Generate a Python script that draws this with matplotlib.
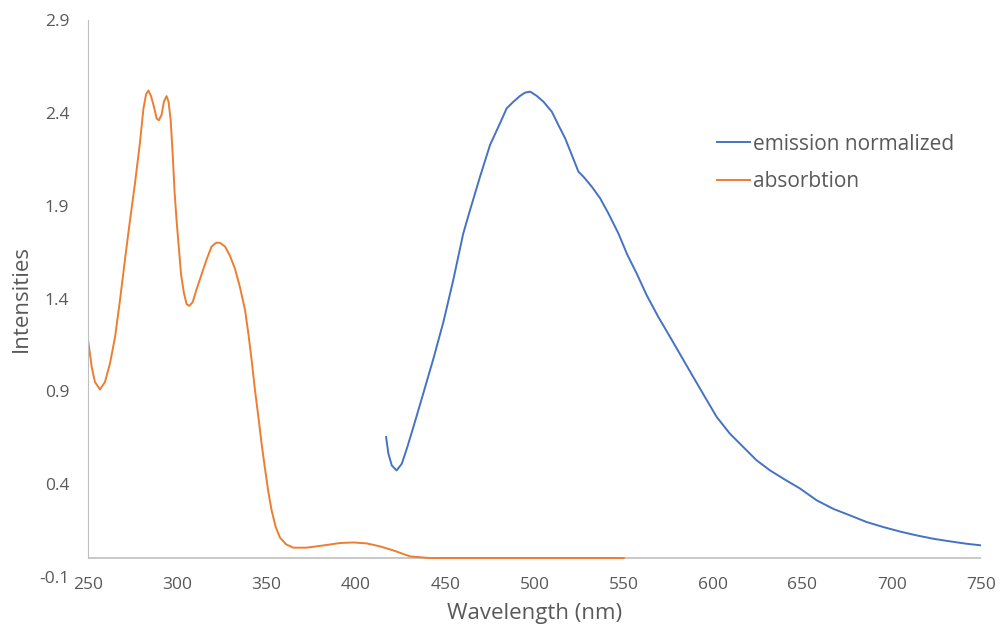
import matplotlib
matplotlib.use("Agg")
import matplotlib.pyplot as plt

# absorption spectrum (nm, intensity)
abs_wl = [250.2, 252.1, 253.9, 256.7, 259.5, 262.3, 265.1, 267.9, 270.7, 273.5,
          276.3, 279.1, 281.0, 282.5, 283.8, 285.3, 287.0, 288.4, 289.7, 291.2,
          292.5, 294.0, 295.1, 296.3, 297.4, 298.5, 299.6, 300.8, 302.1, 303.7,
          305.2, 306.7, 308.6, 310.8, 313.6, 316.4, 319.2, 321.7, 323.9, 326.7,
          329.5, 332.3, 335.1, 337.9, 339.8, 341.6, 343.5, 345.4, 347.2, 349.1,
          351.0, 352.8, 355.1, 357.5, 360.9, 365.0, 372.4, 381.8, 391.1, 398.6,
          406.1, 413.5, 421.0, 430.3, 441.5, 460, 500, 550]
abs_int = [1.166, 1.03, 0.95, 0.91, 0.95, 1.05, 1.19, 1.39, 1.61, 1.82,
           2.02, 2.24, 2.42, 2.50, 2.52, 2.49, 2.43, 2.37, 2.36, 2.39,
           2.46, 2.49, 2.46, 2.36, 2.18, 1.97, 1.82, 1.68, 1.53, 1.43,
           1.37, 1.36, 1.38, 1.45, 1.53, 1.61, 1.68, 1.70, 1.70, 1.68,
           1.63, 1.56, 1.46, 1.34, 1.21, 1.07, 0.906, 0.762, 0.618, 0.483,
           0.357, 0.259, 0.169, 0.112, 0.076, 0.058, 0.058, 0.070, 0.083, 0.086,
           0.081, 0.065, 0.043, 0.011, 0.002, 0.002, 0.002, 0.002]

# normalized emission spectrum
em_wl = [416.9, 418.2, 420.1, 422.8, 425.7, 428.5, 432.2, 437.7, 443.4, 449.0,
         454.5, 460.1, 463.9, 469.5, 475.1, 480.7, 484.4, 488.2, 491.9, 494.7,
         497.6, 501.3, 505.0, 509.7, 513.4, 517.2, 520.9, 524.6, 527.4, 532.1,
         536.8, 541.4, 547.0, 552.0, 557.2, 562.8, 569.3, 575.9, 582.4, 588.9,
         595.4, 602.0, 609.4, 616.9, 624.4, 631.9, 640.3, 648.6, 658.0, 667.3,
         676.6, 686.0, 695.3, 704.6, 714.0, 723.3, 732.6, 742.0, 750.4]
em_int = [0.654, 0.564, 0.501, 0.474, 0.510, 0.591, 0.708, 0.888, 1.076, 1.274,
          1.499, 1.750, 1.876, 2.056, 2.227, 2.344, 2.424, 2.460, 2.491, 2.509,
          2.514, 2.491, 2.460, 2.406, 2.334, 2.262, 2.173, 2.083, 2.056, 2.002,
          1.939, 1.858, 1.750, 1.635, 1.535, 1.418, 1.301, 1.193, 1.085, 0.977,
          0.870, 0.762, 0.672, 0.600, 0.528, 0.474, 0.424, 0.377, 0.313, 0.267,
          0.232, 0.196, 0.169, 0.145, 0.124, 0.106, 0.092, 0.079, 0.070]

yticks = [-0.1, 0.4, 0.9, 1.4, 1.9, 2.4, 2.9]
xticks = list(range(250, 751, 50))

txt = "#595959"
grey = "#BFBFBF"
plt.rcParams['font.family'] = ['Open Sans', 'DejaVu Sans']

fig = plt.figure(figsize=(10.02, 6.31), dpi=100)
ax = fig.add_axes([88/1002, 1 - 577/631, (981 - 88)/1002, (577 - 20)/631])

ax.plot(em_wl, em_int, color="#4472C4", lw=1.4, label="emission normalized")
ax.plot(abs_wl, abs_int, color="#ED7D31", lw=1.4, label="absorbtion")

ax.set_xlim(250, 750)
ax.set_ylim(-0.1, 2.9)
ax.set_xticks(xticks)
ax.set_yticks(yticks)
ax.set_yticklabels([f"{v:.1f}" for v in yticks])

for s in ["top", "right", "bottom"]:
    ax.spines[s].set_visible(False)
ax.spines["left"].set_color(grey)
ax.spines["left"].set_bounds(0, 2.9)
ax.axhline(0, color=grey, lw=1.2, zorder=0)

ax.tick_params(axis="both", length=0, labelsize=12.5, colors=txt)
ax.tick_params(axis="y", pad=13.5)
ax.tick_params(axis="x", pad=0)

ax.set_xlabel("Wavelength (nm)", fontsize=16, color=txt, labelpad=7)
ax.set_ylabel("Intensities", fontsize=16, color=txt, labelpad=5)

leg = ax.legend(loc="upper left", bbox_to_anchor=(0.704, 0.796), frameon=False,
                fontsize=15, handlelength=1.6, handletextpad=0.15,
                labelspacing=0.8, borderaxespad=0, borderpad=0)
for t in leg.get_texts():
    t.set_color(txt)

fig.savefig("out.png", dpi=100)
